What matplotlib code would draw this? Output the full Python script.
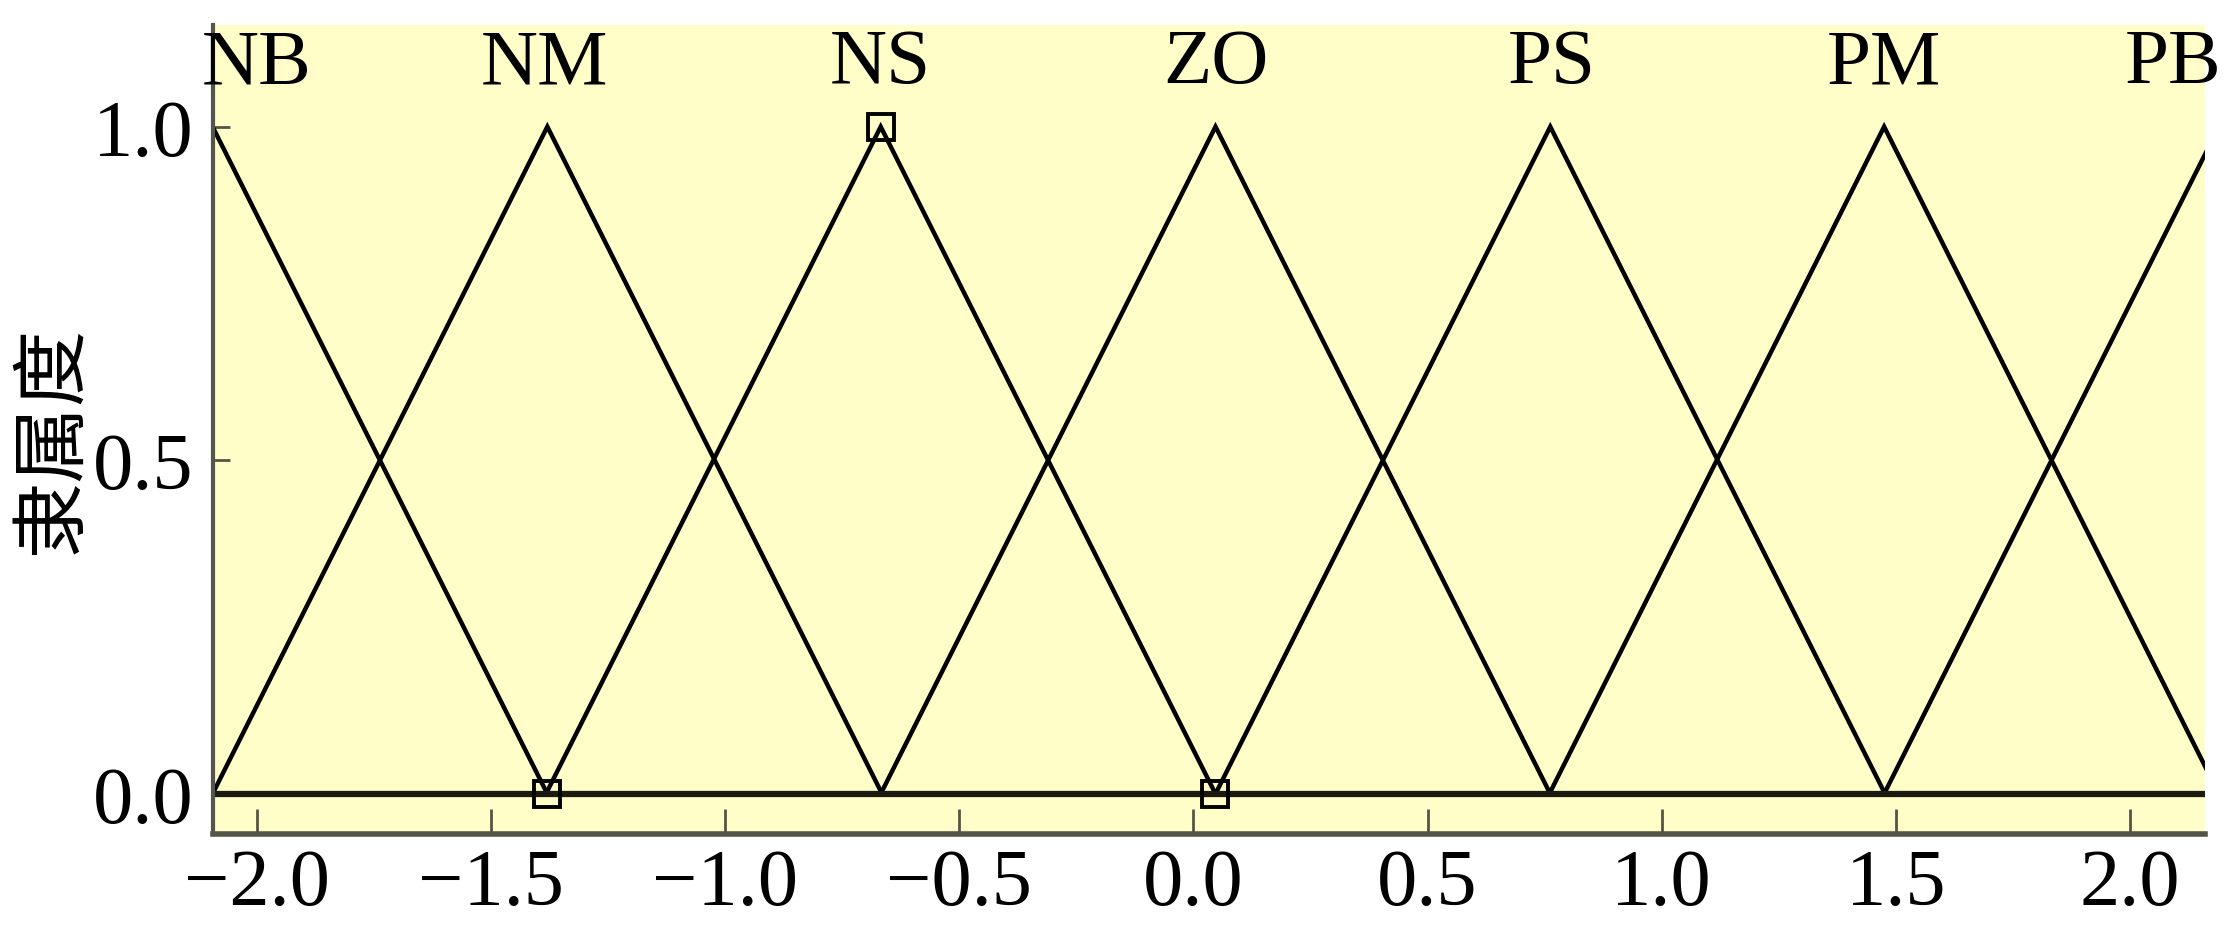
import matplotlib.pyplot as plt
import matplotlib.transforms as mtransforms
import numpy as np

# membership function labels and peak positions
labels = ['NB', 'NM', 'NS', 'ZO', 'PS', 'PM', 'PB']
peaks = [-2.095, -1.38, -0.668, 0.047, 0.762, 1.475, 2.19]
label_x = [-2.0, -1.385, -0.668, 0.047, 0.765, 1.475, 2.1]
half_width = 0.715

# marked points (open squares)
mark_x = [-1.38, -0.668, 0.047]
mark_y = [0.0, 1.0, 0.0]

xticks = [-2.0, -1.5, -1.0, -0.5, 0.0, 0.5, 1.0, 1.5, 2.0]
yticks = [0.0, 0.5, 1.0]

plt.rcParams['font.family'] = ['Liberation Serif', 'Noto Sans CJK SC']
plt.rcParams['axes.unicode_minus'] = True

fig = plt.figure(figsize=(22.26, 9.28), dpi=100)
ax = fig.add_axes([0.0957, 0.1003, 0.8948, 0.8721])
ax.set_facecolor('#FFFDC8')

xmin, xmax = -2.094, 2.16
for p in peaks:
    xs = [p - half_width, p, p + half_width]
    ys = [0, 1, 0]
    ax.plot(xs, ys, color='black', lw=3.2, solid_joinstyle='miter')

for lab, lx in zip(labels[:-1], label_x[:-1]):
    ax.text(lx, 1.095, lab, ha='center', va='center', fontsize=57)
# last label sits against the right edge of the figure
trans = mtransforms.blended_transform_factory(fig.transFigure, ax.transData)
ax.text(0.998, 1.095, labels[-1], transform=trans,
        ha='right', va='center', fontsize=57)

ax.axhline(0, color='#1a1a10', lw=4.5)
ax.plot(mark_x, mark_y, 's', ms=19, mfc='none', mec='black', mew=2.8, clip_on=False)

ax.set_xlim(xmin, xmax)
ax.set_ylim(-0.06, 1.153)
ax.set_xticks(xticks)
ax.set_xticklabels([f'{v:.1f}'.replace('-', '\u2212') for v in xticks])
ax.set_yticks(yticks)
ax.set_yticklabels([f'{v:.1f}' for v in yticks])
ax.tick_params(axis='x', direction='in', length=18, width=2, color='#555545',
               labelsize=58, pad=10)
ax.tick_params(axis='y', direction='in', length=12, width=2, color='#555545',
               labelsize=58, pad=14)

for s in ['top', 'right']:
    ax.spines[s].set_visible(False)
ax.spines['left'].set_color('#555550')
ax.spines['left'].set_linewidth(3)
ax.spines['bottom'].set_color('#555545')
ax.spines['bottom'].set_linewidth(4)

ax.set_ylabel('隶属度', fontsize=55, family=['Noto Sans CJK SC'])
ax.yaxis.set_label_coords(-0.061, 0.488)

fig.savefig('out.png', dpi=100, facecolor='white')
